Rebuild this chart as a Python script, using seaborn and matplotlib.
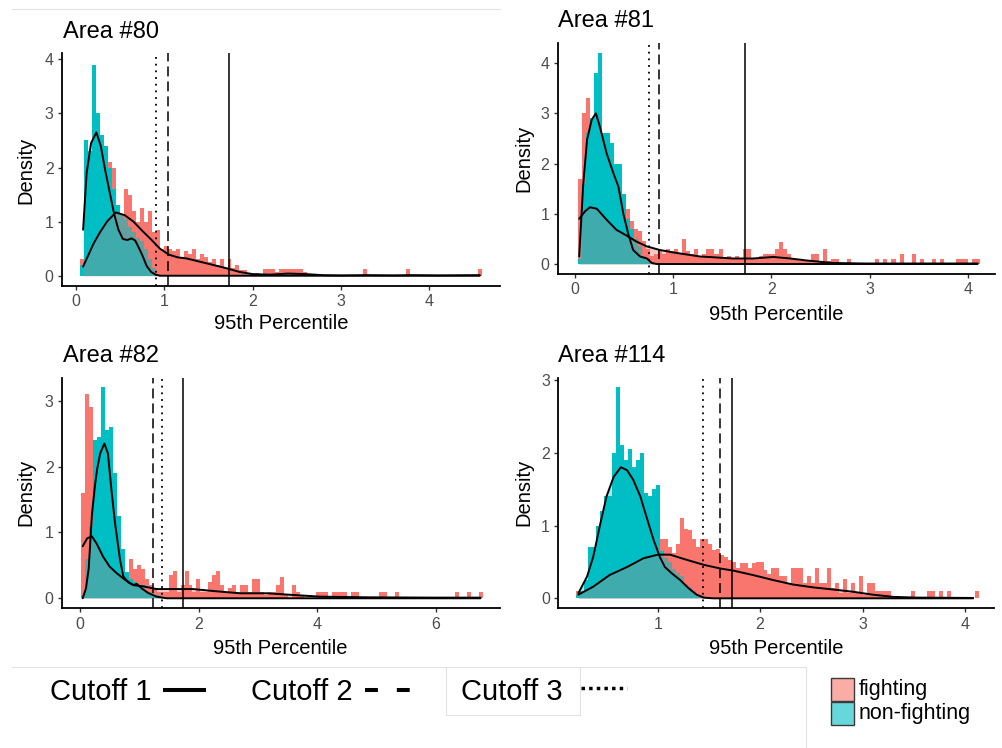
import numpy as np
import pandas as pd
import seaborn as sns
import matplotlib.pyplot as plt
from matplotlib.lines import Line2D
from matplotlib.patches import Rectangle

sns.set_style('ticks')
plt.rcParams['font.family'] = ['Liberation Sans', 'DejaVu Sans']
plt.rcParams['text.color'] = 'black'

RED = '#F8766D'
TEAL = '#00BFC4'
GREY = '#4D4D4D'
W, H = 1002, 748

# ---------------- Area #80 ----------------
start80, width80 = 0.05, 0.045
red80 = [
    0.3, 0.5, 0.7, 0.9, 1.0, 1.2, 1.6, 2.1, 2.0, 1.2,
    1.0, 1.6, 1.5, 1.2, 1.0, 1.25, 1.0, 1.2, 0.8, 0.85,
    0.5, 0.55, 0.5, 0.45, 0.5, 0.35, 0.45, 0.4, 0.5, 0.3,
    0.4, 0.35, 0.25, 0.3, 0.2, 0.3, 0.15, 0.3, 0.15, 0.2,
    0.1, 0.1, 0.05, 0, 0.05, 0, 0.12, 0.12, 0.12, 0.06,
    0.12, 0.12, 0.12, 0.12, 0.12, 0.12, 0.06, 0, 0, 0,
    0, 0, 0, 0, 0, 0, 0, 0, 0, 0,
    0, 0.12, 0, 0, 0, 0, 0, 0, 0, 0,
    0, 0, 0.12, 0, 0, 0, 0, 0, 0, 0,
    0, 0, 0, 0, 0, 0, 0, 0, 0, 0,
    0.12]
teal80 = [0.2, 2.5, 2.3, 3.9, 3.0, 2.6, 2.4, 2.0, 1.6, 1.3,
          1.15, 1.05, 0.9, 0.8, 0.7, 0.65, 0.5, 0.3, 0.15]
fight_x80 = [0.08, 0.15, 0.2, 0.27, 0.35, 0.45, 0.55, 0.65, 0.75, 0.85, 0.95, 1.05, 1.15,
             1.25, 1.4, 1.55, 1.7, 1.85, 2.0, 2.2, 2.4, 2.6, 2.8, 3.0, 3.3, 3.6, 3.8, 4.1, 4.57]
fight_y80 = [0.17, 0.42, 0.6, 0.8, 1.0, 1.17, 1.12, 1.0, 0.83, 0.67, 0.5, 0.39, 0.34,
             0.32, 0.26, 0.2, 0.14, 0.07, 0.03, 0.02, 0.04, 0.03, 0.01, 0.005, 0.01, 0.005, 0.01, 0.005, 0.01]
non_x80 = [0.08, 0.12, 0.17, 0.23, 0.28, 0.33, 0.38, 0.43, 0.48, 0.53, 0.58, 0.63, 0.67,
           0.71, 0.75, 0.8, 0.85, 0.9, 0.95, 4.57]
non_y80 = [0.85, 1.9, 2.45, 2.65, 2.4, 1.95, 1.55, 1.15, 0.85, 0.68, 0.66, 0.69, 0.65,
           0.52, 0.38, 0.18, 0.07, 0.02, 0.0, 0.0]
cuts80 = [1.73, 1.045, 0.906]

# ---------------- Area #81 ----------------
start81, width81 = 0.025, 0.041
red81 = [
    1.7, 3.0, 3.3, 2.6, 2.2, 1.9, 1.7, 1.5, 1.3, 1.2,
    1.1, 1.0, 1.1, 0.85, 0.7, 0.65, 0.45, 0.3, 0.15, 0.2,
    0.25, 0.2, 0.3, 0.25, 0.3, 0.2, 0.5, 0.25, 0.2, 0.3,
    0.15, 0.2, 0.3, 0.3, 0.2, 0.3, 0.1, 0.15, 0.1, 0.15,
    0.1, 0.3, 0.3, 0.1, 0.1, 0.15, 0.2, 0.2, 0.2, 0.3,
    0.43, 0.3, 0.2, 0.1, 0.07, 0.05, 0.07, 0.05, 0.2, 0.2,
    0.05, 0.3, 0.05, 0.1, 0.1, 0, 0, 0.1, 0, 0,
    0, 0, 0, 0, 0.1, 0, 0.1, 0, 0.1, 0,
    0.2, 0, 0, 0.2, 0, 0.1, 0, 0, 0.1, 0,
    0.1, 0, 0, 0, 0.1, 0.1, 0.1, 0, 0.1, 0.1]
teal81 = [0.1, 1.6, 2.6, 2.9, 3.8, 4.2, 2.6, 2.6, 2.4, 2.0,
          2.0, 1.4, 0.9, 0.7, 0.5, 0.35, 0.15, 0.05]
fight_x81 = [0.04, 0.1, 0.15, 0.22, 0.32, 0.42, 0.52, 0.62, 0.73, 0.86, 1.0, 1.27, 1.61,
             1.81, 2.02, 2.19, 2.36, 2.63, 2.97, 3.3, 3.7, 4.1]
fight_y81 = [0.9, 1.05, 1.13, 1.1, 0.88, 0.68, 0.57, 0.45, 0.35, 0.28, 0.23, 0.15, 0.11,
             0.11, 0.14, 0.11, 0.07, 0.02, 0.01, 0.01, 0.01, 0.01]
non_x81 = [0.04, 0.08, 0.12, 0.167, 0.21, 0.25, 0.32, 0.39, 0.44, 0.49, 0.54, 0.59, 0.66,
           0.73, 0.78, 0.83, 4.1]
non_y81 = [0.15, 1.55, 2.47, 2.87, 3.0, 2.74, 2.2, 1.8, 1.54, 1.0, 0.6, 0.28, 0.15,
           0.11, 0.02, 0.0, 0.0]
cuts81 = [1.73, 0.857, 0.751]

# ---------------- Area #82 ----------------
start82, width82 = 0.02, 0.067
red82 = [
    1.6, 3.1, 2.9, 2.2, 1.5, 1.2, 0.9, 0.75, 0.6, 0.5,
    0.45, 0.35, 0.6, 0.45, 0.5, 0.45, 0.3, 0.2, 0.15, 0.1,
    0.1, 0.1, 0.35, 0.42, 0.1, 0.2, 0.42, 0.2, 0.1, 0.3,
    0.1, 0.1, 0.25, 0.35, 0.42, 0.2, 0.1, 0.15, 0.2, 0.1,
    0.2, 0.2, 0.1, 0.3, 0.3, 0.1, 0.05, 0.1, 0.1, 0.2,
    0.32, 0.05, 0, 0.2, 0.1, 0.05, 0, 0, 0, 0.1,
    0.1, 0.1, 0, 0.1, 0.1, 0.1, 0.1, 0, 0.1, 0.1,
    0, 0, 0, 0, 0, 0.1, 0.1, 0, 0, 0.1,
    0, 0, 0, 0, 0, 0, 0, 0, 0, 0,
    0, 0, 0, 0, 0.1, 0, 0, 0.1, 0, 0,
    0.1]
teal82 = [0.05, 0.6, 1.1, 2.4, 2.45, 3.2, 2.55, 2.6, 1.9, 1.25,
          0.75, 0.4, 0.3, 0.25, 0.2, 0.2, 0.1, 0.1, 0.05, 0.05]
fight_x82 = [0.045, 0.12, 0.2, 0.28, 0.39, 0.5, 0.62, 0.76, 0.9, 1.07, 1.29, 1.57, 1.91,
             2.25, 2.7, 3.15, 3.6, 4.05, 4.83, 5.96, 6.75]
fight_y82 = [0.79, 0.91, 0.94, 0.83, 0.63, 0.48, 0.38, 0.28, 0.2, 0.18, 0.14, 0.14, 0.14,
             0.11, 0.076, 0.076, 0.05, 0.025, 0.015, 0.01, 0.01]
non_x82 = [0.045, 0.1, 0.146, 0.2, 0.25, 0.29, 0.34, 0.41, 0.47, 0.53, 0.59, 0.675, 0.73,
           0.815, 0.9, 0.955, 1.04, 1.15, 1.29, 1.46, 6.75]
non_y82 = [0.0, 0.15, 0.45, 1.26, 1.7, 1.97, 2.2, 2.35, 2.2, 1.64, 1.14, 0.58, 0.33,
           0.24, 0.2, 0.22, 0.15, 0.08, 0.025, 0.0, 0.0]
cuts82 = [1.73, 1.236, 1.388]

# ---------------- Area #114 ----------------
start114, width114 = 0.2, 0.039
red114 = [
    0.1, 0.1, 0.15, 0.2, 0.25, 0.3, 0.3, 0.35, 0.4, 0.4,
    0.45, 0.45, 0.5, 0.5, 0.5, 0.55, 0.6, 0.6, 0.6, 0.6,
    0.65, 0.81, 0.81, 0.71, 0.62, 0.75, 1.1, 0.95, 0.94, 0.82,
    0.71, 0.82, 0.82, 0.75, 0.66, 0.68, 0.6, 0.57, 0.53, 0.5,
    0.41, 0.48, 0.48, 0.41, 0.48, 0.5, 0.5, 0.39, 0.34, 0.41,
    0.41, 0.31, 0.31, 0.21, 0.41, 0.41, 0.41, 0.21, 0.31, 0.21,
    0.41, 0.21, 0.21, 0.41, 0.14, 0.21, 0.07, 0.27, 0.07, 0.21,
    0.07, 0.31, 0.05, 0.21, 0.21, 0.1, 0.1, 0.1, 0.1, 0,
    0, 0, 0, 0, 0.1, 0, 0, 0, 0.1, 0.1,
    0, 0.1, 0, 0.1, 0, 0, 0, 0, 0, 0,
    0.1]
teal114 = [0.05, 0.1, 0.25, 0.7, 0.7, 1.0, 1.2, 1.4, 1.4, 2.0,
           2.9, 2.1, 1.9, 2.05, 1.8, 1.9, 2.0, 1.45, 1.4, 1.5,
           1.55, 0.65, 0.55, 0.5, 0.4, 0.35, 0.3, 0.2, 0.15, 0.1, 0.05]
fight_x114 = [0.225, 0.37, 0.53, 0.7, 0.86, 1.0, 1.12, 1.28, 1.45, 1.61, 1.74, 1.93, 2.13,
              2.32, 2.52, 2.72, 2.91, 3.1, 3.3, 3.53, 4.08]
fight_y114 = [0.05, 0.16, 0.32, 0.43, 0.55, 0.6, 0.6, 0.53, 0.46, 0.41, 0.38, 0.32, 0.25,
              0.19, 0.15, 0.12, 0.09, 0.05, 0.02, 0.01, 0.005]
non_x114 = [0.225, 0.31, 0.37, 0.44, 0.5, 0.57, 0.64, 0.7, 0.76, 0.83, 0.89, 0.96, 1.02,
            1.07, 1.14, 1.22, 1.3, 1.38, 1.45, 1.54, 4.08]
non_y114 = [0.07, 0.3, 0.57, 1.03, 1.4, 1.67, 1.8, 1.76, 1.63, 1.4, 1.12, 0.8, 0.57,
            0.43, 0.34, 0.25, 0.14, 0.05, 0.01, 0.0, 0.0]
cuts114 = [1.73, 1.611, 1.445]

cut_names = ['Cutoff 1', 'Cutoff 2', 'Cutoff 3']

panels = [
    dict(title='Area #80', start=start80, width=width80, red=red80, teal=teal80,
         fx=fight_x80, fy=fight_y80, nx=non_x80, ny=non_y80, cuts=cuts80,
         box=(62, 53, 500, 286), xlim=(-0.159, 4.80), ylim=(-0.19, 4.117),
         xticks=[0, 1, 2, 3, 4], yticks=[0, 1, 2, 3, 4],
         tpos=(62.7, 38.3), xl=(281, 329.5), yl=(26, 170)),
    dict(title='Area #81', start=start81, width=width81, red=red81, teal=teal81,
         fx=fight_x81, fy=fight_y81, nx=non_x81, ny=non_y81, cuts=cuts81,
         box=(557.7, 43, 995, 274), xlim=(-0.179, 4.278), ylim=(-0.199, 4.40),
         xticks=[0, 1, 2, 3, 4], yticks=[0, 1, 2, 3, 4],
         tpos=(558, 27.3), xl=(776.7, 320.4), yl=(523.5, 158.3)),
    dict(title='Area #82', start=start82, width=width82, red=red82, teal=teal82,
         fx=fight_x82, fy=fight_y82, nx=non_x82, ny=non_y82, cuts=cuts82,
         box=(62, 377.7, 500, 608.3), xlim=(-0.304, 7.08), ylim=(-0.152, 3.348),
         xticks=[0, 2, 4, 6], yticks=[0, 1, 2, 3],
         tpos=(62.7, 361.7), xl=(280.7, 653.7), yl=(26, 492.5)),
    dict(title='Area #114', start=start114, width=width114, red=red114, teal=teal114,
         fx=fight_x114, fy=fight_y114, nx=non_x114, ny=non_y114, cuts=cuts114,
         box=(558.3, 378.3, 994, 608.3), xlim=(0.029, 4.284), ylim=(-0.137, 3.022),
         xticks=[1, 2, 3, 4], yticks=[0, 1, 2, 3],
         tpos=(558.5, 361.7), xl=(776.7, 653.7), yl=(523.5, 492.5)),
]


def fx_(x):
    return x / W


def fy_(y):
    return 1 - y / H


fig = plt.figure(figsize=(W / 100, H / 100), dpi=100)

for p in panels:
    l, t, r, b = p['box']
    ax = fig.add_axes([fx_(l), fy_(b), (r - l) / W, (b - t) / H])
    n = len(p['red'])
    edges = p['start'] + p['width'] * np.arange(n + 1)
    centers = edges[:-1] + p['width'] / 2
    teal = list(p['teal']) + [0] * (n - len(p['teal']))
    df = pd.DataFrame({'x': centers, 'red': p['red'], 'teal': teal})
    rng = (float(edges[0]), float(edges[-1]))

    sns.histplot(data=df, x='x', weights='red', binwidth=p['width'], binrange=rng,
                 color=RED, alpha=1, linewidth=0, ax=ax)
    sns.histplot(data=df, x='x', weights='teal', binwidth=p['width'], binrange=rng,
                 color=TEAL, alpha=1, linewidth=0, ax=ax)

    ax.fill_between(p['fx'], p['fy'], color=RED, alpha=0.4, linewidth=0)
    sns.lineplot(x=p['fx'], y=p['fy'], color='black', linewidth=1.4, ax=ax)
    ax.fill_between(p['nx'], p['ny'], color=TEAL, alpha=0.35, linewidth=0)
    sns.lineplot(x=p['nx'], y=p['ny'], color='black', linewidth=1.4, ax=ax)

    c1, c2, c3 = p['cuts']
    ax.axvline(c1, color='black', linewidth=1.1)
    ax.axvline(c2, color='black', linewidth=1.1, linestyle=(0, (6.5, 3.3)))
    ax.axvline(c3, color='black', linewidth=1.3, linestyle=(0, (1, 2.7)))

    ax.set_xlim(*p['xlim'])
    ax.set_ylim(*p['ylim'])
    ax.set_xticks(p['xticks'])
    ax.set_yticks(p['yticks'])
    ax.set_xlabel('')
    ax.set_ylabel('')
    ax.tick_params(labelsize=11.5, labelcolor=GREY, color='#333333',
                   length=3, width=1, pad=3)
    sns.despine(ax=ax)
    for s in ['left', 'bottom']:
        ax.spines[s].set_linewidth(1.3)
        ax.spines[s].set_color('black')

    fig.text(fx_(p['tpos'][0]), fy_(p['tpos'][1]), p['title'], fontsize=17,
             ha='left', va='baseline', color='black')
    fig.text(fx_(p['xl'][0]), fy_(p['xl'][1]), '95th Percentile', fontsize=14.5,
             ha='center', va='baseline', color='black')
    fig.text(fx_(p['yl'][0]), fy_(p['yl'][1]), 'Density', fontsize=14.5,
             ha='center', va='center', rotation=90, color='black')


def hline(x0, x1, y, **kw):
    fig.add_artist(Line2D([fx_(x0), fx_(x1)], [fy_(y), fy_(y)],
                          transform=fig.transFigure, **kw))


def vline(x, y0, y1, **kw):
    fig.add_artist(Line2D([fx_(x), fx_(x)], [fy_(y0), fy_(y1)],
                          transform=fig.transFigure, **kw))


# faint frame lines of the composite
frame = dict(color='#E2E2E2', linewidth=0.8)
hline(12, 500, 9, **frame)
hline(12, 806, 667, **frame)
vline(446, 667, 715, **frame)
vline(580, 667, 715, **frame)
hline(446, 580, 715, **frame)
vline(806, 667, 748, **frame)

# cutoff key
fig.text(fx_(50), fy_(700.5), cut_names[0], fontsize=21, ha='left', va='baseline')
fig.text(fx_(251), fy_(700.5), cut_names[1], fontsize=21, ha='left', va='baseline')
fig.text(fx_(461), fy_(700.5), cut_names[2], fontsize=21, ha='left', va='baseline')
hline(163, 206, 690, color='black', linewidth=2.9, solid_capstyle='butt')
hline(365, 411, 690, color='black', linewidth=2.9, dashes=(3.2, 4.7),
      dash_capstyle='butt')
hline(581, 627, 688, color='black', linewidth=2.5, dashes=(1, 1.2),
      dash_capstyle='butt')

# fill key
for (label, col, top) in [('fighting', RED, 678), ('non-fighting', TEAL, 702)]:
    fig.add_artist(Rectangle((fx_(831), fy_(top + 23)), 23 / W, 23 / H,
                             transform=fig.transFigure, facecolor=col, alpha=0.6,
                             edgecolor='none'))
    fig.add_artist(Rectangle((fx_(831), fy_(top + 23)), 23 / W, 23 / H,
                             transform=fig.transFigure, facecolor='none',
                             edgecolor='#3A3A3A', linewidth=1))
    fig.text(fx_(859), fy_(top + 11.5), label, fontsize=15.5, ha='left', va='center')

fig.savefig('out.png', dpi=100)
